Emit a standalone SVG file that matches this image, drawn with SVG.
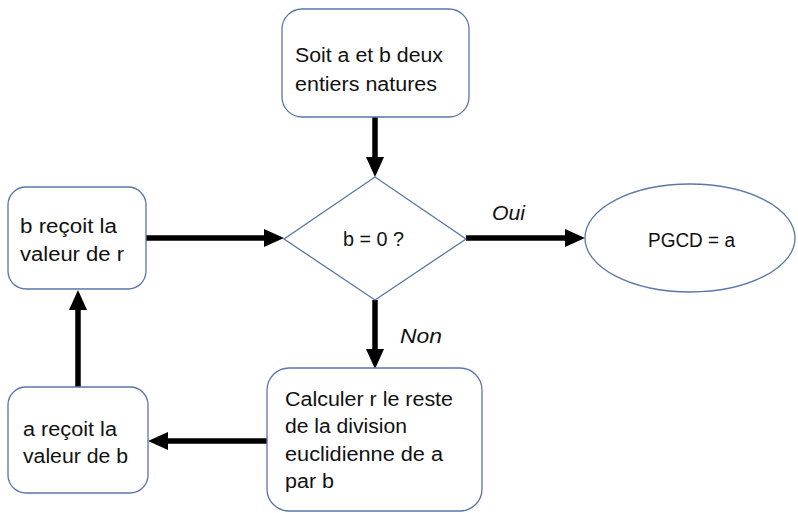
<svg xmlns="http://www.w3.org/2000/svg" width="798" height="513" viewBox="0 0 798 513">
<defs>
<style>
.box{fill:#fff;stroke:#5a76a8;stroke-width:1.3}
.t{font-family:"Liberation Sans",Arial,sans-serif;font-size:20px;fill:#111}
.it{font-style:italic}
.arr{stroke:#000;stroke-width:5.5;fill:none;marker-end:url(#ah)}
</style>
<marker id="ah" viewBox="0 0 20 18" refX="1" refY="9" markerWidth="20" markerHeight="18" markerUnits="userSpaceOnUse" orient="auto">
<path d="M0,0 L20,9 L0,18 z" fill="#000"/>
</marker>
</defs>
<rect width="798" height="513" fill="#fff"/>
<g id="connectors">
<line class="arr" x1="375" y1="117" x2="375" y2="158"/>
<line class="arr" x1="146" y1="238" x2="265" y2="238"/>
<line class="arr" x1="466" y1="238" x2="566" y2="238"/>
<line class="arr" x1="375" y1="300" x2="375" y2="350"/>
<line class="arr" x1="267" y1="441" x2="167" y2="441"/>
<line class="arr" x1="78" y1="387" x2="78" y2="309"/>
<text class="t it" x="492" y="220" textLength="33" lengthAdjust="spacingAndGlyphs">Oui</text>
<text class="t it" x="400" y="343" textLength="42" lengthAdjust="spacingAndGlyphs">Non</text>
</g>
<g id="start">
<rect class="box" x="282" y="9" width="187" height="108" rx="20"/>
<text class="t" x="295" y="62" textLength="148" lengthAdjust="spacingAndGlyphs">Soit a et b deux</text>
<text class="t" x="295" y="91" textLength="142" lengthAdjust="spacingAndGlyphs">entiers natures</text>
</g>
<g id="decision">
<polygon class="box" points="375,177 466,239 375,300 284,239"/>
<text class="t" x="343" y="246" textLength="61" lengthAdjust="spacingAndGlyphs">b = 0 ?</text>
</g>
<g id="result">
<ellipse class="box" cx="690" cy="238" rx="105" ry="54"/>
<text class="t" x="648" y="247" textLength="87" lengthAdjust="spacingAndGlyphs">PGCD = a</text>
</g>
<g id="b-recoit">
<rect class="box" x="8" y="187" width="138" height="102" rx="18"/>
<text class="t" x="20" y="233" textLength="97" lengthAdjust="spacingAndGlyphs">b reçoit la</text>
<text class="t" x="20" y="261" textLength="104" lengthAdjust="spacingAndGlyphs">valeur de r</text>
</g>
<g id="a-recoit">
<rect class="box" x="8" y="387" width="140" height="106" rx="18"/>
<text class="t" x="23" y="436" textLength="94" lengthAdjust="spacingAndGlyphs">a reçoit la</text>
<text class="t" x="23" y="463" textLength="105" lengthAdjust="spacingAndGlyphs">valeur de b</text>
</g>
<g id="calcul">
<rect class="box" x="267" y="368" width="215" height="143" rx="22"/>
<text class="t" x="285" y="406" textLength="168" lengthAdjust="spacingAndGlyphs">Calculer r le reste</text>
<text class="t" x="285" y="433" textLength="122" lengthAdjust="spacingAndGlyphs">de la division</text>
<text class="t" x="285" y="461" textLength="158" lengthAdjust="spacingAndGlyphs">euclidienne de a</text>
<text class="t" x="285" y="488" textLength="49" lengthAdjust="spacingAndGlyphs">par b</text>
</g>
</svg>
